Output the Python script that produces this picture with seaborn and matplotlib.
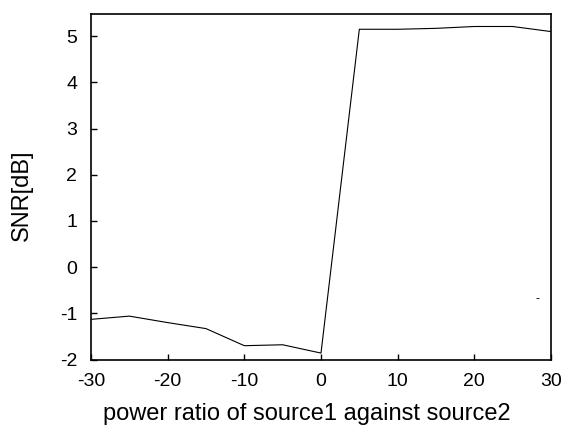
import matplotlib
matplotlib.use("Agg")
import matplotlib.pyplot as plt
import seaborn as sns
import pandas as pd

power_ratio = [-30, -25, -20, -15, -10, -5, 0, 5, 10, 15, 20, 25, 30]
snr_db = [-1.13, -1.06, -1.20, -1.33, -1.70, -1.68, -1.86, 5.15, 5.15, 5.17, 5.21, 5.21, 5.10]
x_ticks = [-30, -20, -10, 0, 10, 20, 30]
y_ticks = [-2, -1, 0, 1, 2, 3, 4, 5]

sns.set_theme(style="white")
plt.rcParams["font.family"] = ["Liberation Sans", "DejaVu Sans"]
plt.rcParams["axes.unicode_minus"] = False
plt.rcParams["text.color"] = "black"
plt.rcParams["axes.labelcolor"] = "black"

df = pd.DataFrame({"ratio": power_ratio, "snr": snr_db})

fig = plt.figure(figsize=(5.63, 4.25), dpi=100)
ax = fig.add_axes([0.1616, 0.154, 0.8171, 0.813])
sns.lineplot(data=df, x="ratio", y="snr", ax=ax, color="black", linewidth=0.8)

ax.set_xlim(-30, 30)
ax.set_ylim(-2, 5.48)
ax.set_xticks(x_ticks)
ax.set_yticks(y_ticks)
ax.tick_params(direction="in", length=4, width=1, labelsize=14, colors="black",
               bottom=True, left=True, top=False, right=False, pad=10)
for s in ax.spines.values():
    s.set_color("black")
    s.set_linewidth(1.2)

ax.set_xlabel("power ratio of source1 against source2", fontsize=17)
ax.set_ylabel("SNR[dB]", fontsize=17)
ax.xaxis.set_label_coords(0.47, -0.125)
ax.yaxis.set_label_coords(-0.126, 0.475)
ax.text(28.2, -0.69, "-", fontsize=9, ha="center", va="center")

fig.savefig("out.png", dpi=100)
